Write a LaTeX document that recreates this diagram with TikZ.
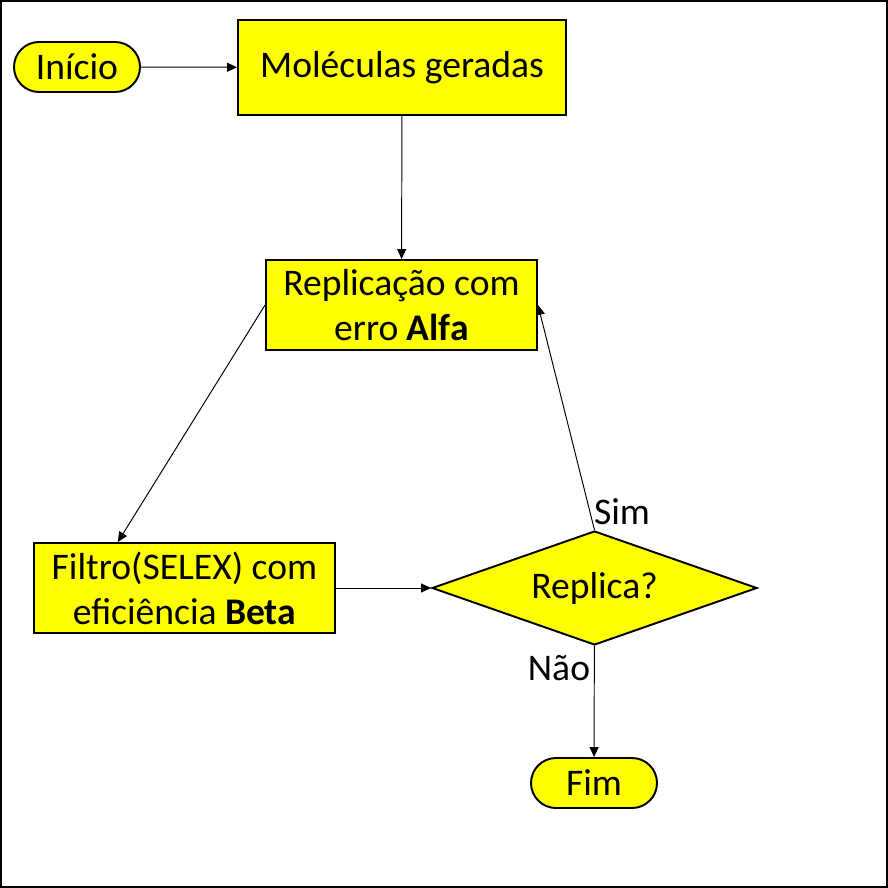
\documentclass[tikz,border=0pt]{standalone}
\usepackage{fontspec}
\setmainfont{Carlito}
\usepackage{xcolor}
\usetikzlibrary{shapes.geometric,arrows.meta,positioning,calc}
\definecolor{fcyellow}{rgb}{1,1,0}

\begin{document}
\begin{tikzpicture}[
  font=\fontsize{21.4}{25.5}\selectfont,
  box/.style={draw=black, fill=fcyellow, line width=1.1pt, align=center, inner sep=2pt},
  proc/.style={box, rectangle},
  term/.style={box, rectangle, rounded corners=0.5cm, minimum width=2.52cm, minimum height=1.0cm},
  dec/.style={box, diamond, aspect=2.85, minimum width=6.5cm, minimum height=2.28cm, inner sep=0pt},
  flow/.style={line width=0.55pt, -{Triangle[length=0.2cm, width=0.18cm]}}
]
\useasboundingbox (0,0) rectangle (17.76,-17.76);
\draw[line width=1.2pt] (0.02,-0.02) rectangle (17.74,-17.74);

\node[term] (ini) at (1.54,-1.34) {Início};
\node[proc, minimum width=6.56cm, minimum height=1.9cm] (mol) at (8.04,-1.35) {Moléculas geradas};
\node[proc, minimum width=5.42cm, minimum height=1.8cm] (rep) at (8.03,-6.1) {Replicação com\\erro \textbf{Alfa}};
\node[proc, minimum width=6.02cm, minimum height=1.8cm] (fil) at (3.69,-11.76) {Filtro(SELEX) com\\eficiência \textbf{Beta}};
\node[dec] (rpl) at (11.89,-11.76) {Replica?};
\node[term] (fim) at (11.88,-15.66) {Fim};

\node (sim) at (12.44,-10.24) {Sim};
\node (nao) at (11.18,-13.36) {Não};

\coordinate (filin) at ($(fil.north west)!0.28!(fil.north east)$);

\draw[flow] (ini) -- (mol);
\draw[flow] (mol) -- (rep);
\draw[flow] (rep.west) -- (filin);
\draw[flow] (fil) -- (rpl);
\draw[flow] (rpl.north) -- (rep.east);
\draw[flow] (rpl) -- (fim);
\end{tikzpicture}
\end{document}
